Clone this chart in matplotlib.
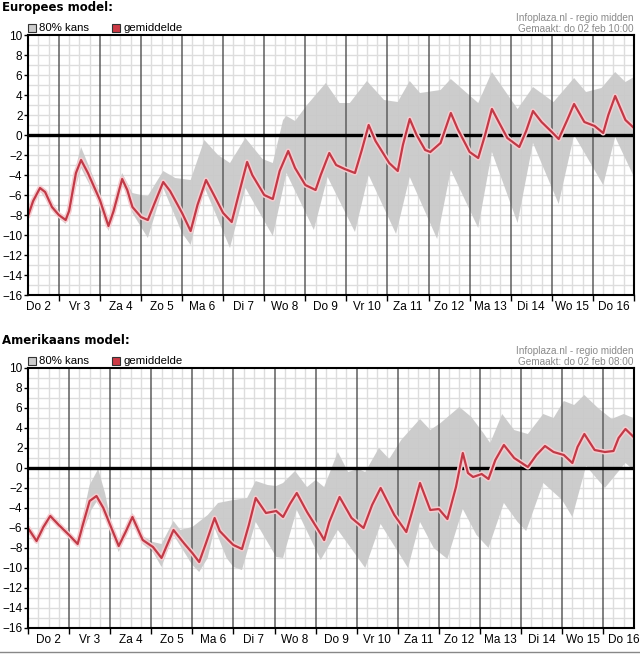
import matplotlib
matplotlib.use("Agg")
import matplotlib.pyplot as plt
import numpy as np
from matplotlib.patches import Rectangle
from matplotlib.lines import Line2D

plt.rcParams["font.family"] = ["Liberation Sans", "DejaVu Sans"]
plt.rcParams["font.size"] = 8

W, H = 640, 659

DAY_LABELS = ["Do 2", "Vr 3", "Za 4", "Zo 5", "Ma 6", "Di 7", "Wo 8", "Do 9",
              "Vr 10", "Za 11", "Zo 12", "Ma 13", "Di 14", "Wo 15", "Do 16"]

# times are hours since do 2 feb 00:00
# --- Europees model ---
EU_MEAN_H = [6, 9, 13, 16, 20, 24, 28, 30, 34, 37, 41, 48, 53, 56, 61, 64, 67,
             72, 76, 80, 85, 89, 96, 101, 105, 110, 114, 120, 125, 129, 134,
             137, 144, 149, 153, 158, 162, 168, 174, 177, 182, 186, 191, 197,
             201, 205, 209, 217, 222, 225, 229, 233, 238, 241, 247, 253, 257,
             264, 269, 273, 277, 281, 286, 293, 297, 301, 306, 312, 316, 321,
             325, 331, 337, 342, 345, 349, 355, 360]
EU_MEAN = [-8.1, -6.6, -5.3, -5.7, -7.2, -8.0, -8.5, -7.6, -3.8, -2.5, -3.8,
           -6.5, -9.1, -7.6, -4.4, -5.5, -7.2, -8.2, -8.5, -6.8, -4.7, -5.6,
           -7.8, -9.6, -7.0, -4.5, -5.8, -7.8, -8.7, -6.0, -2.7, -4.0, -6.0,
           -6.4, -3.6, -1.6, -3.3, -5.0, -5.5, -4.0, -1.8, -3.0, -3.4, -3.8,
           -1.5, 1.0, -0.6, -2.8, -3.6, -1.0, 1.6, 0.0, -1.5, -1.7, -0.8, 2.2,
           0.6, -1.7, -2.3, 0.0, 2.6, 1.3, -0.3, -1.2, 0.4, 2.4, 1.3, 0.3,
           -0.4, 1.5, 3.1, 1.3, 0.9, 0.2, 2.0, 3.9, 1.5, 0.7]
EU_UP_H = [6, 13, 24, 28, 32, 37, 48, 53, 61, 67, 72, 76, 85, 92, 101, 109,
           117, 124, 133, 143, 149, 155, 157, 162, 169, 180, 188, 194, 204,
           214, 222, 229, 235, 247, 253, 269, 277, 292, 301, 313, 325, 332,
           341, 349, 355, 360]
EU_UP = [-7.8, -5.0, -7.7, -8.2, -4.5, -1.2, -5.8, -8.7, -3.8, -5.8, -6.0,
         -6.1, -3.6, -4.3, -4.5, -0.5, -2.0, -2.8, -0.3, -2.4, -2.8, 1.5, 1.9,
         1.4, 3.0, 5.2, 3.2, 3.2, 5.4, 3.5, 3.3, 5.4, 4.2, 4.5, 5.6, 3.2, 6.3,
         2.6, 4.8, 3.3, 5.7, 4.3, 4.7, 6.3, 5.3, 5.8]
EU_LO_H = [6, 13, 24, 28, 37, 48, 53, 61, 67, 76, 85, 96, 101, 109, 124, 133,
           149, 157, 173, 181, 197, 205, 221, 229, 245, 253, 269, 277, 292,
           301, 316, 325, 342, 349, 360]
EU_LO = [-8.4, -5.6, -8.3, -8.9, -3.3, -7.0, -9.6, -4.7, -7.8, -10.3, -5.3,
         -9.8, -11.0, -5.2, -11.3, -5.3, -10.1, -3.8, -9.5, -4.2, -9.7, -4.0,
         -9.9, -4.2, -10.4, -3.5, -9.3, -1.7, -8.8, -0.8, -6.9, 0.0, -5.0,
         -0.2, -4.2]

# --- Amerikaans model ---
AM_MEAN_H = [0, 5, 9, 13, 18, 24, 29, 32, 36, 40, 44, 48, 53, 57, 61, 67, 73,
             78, 85, 91, 96, 100, 104, 109, 112, 117, 120, 125, 129, 133, 139,
             145, 149, 153, 157, 163, 171, 173, 176, 182, 189, 196, 201, 206,
             214, 221, 225, 229, 235, 240, 245, 250, 254, 257, 260, 265, 269,
             273, 278, 284, 292, 297, 302, 307, 313, 318, 321, 325, 331, 337,
             342, 345, 349, 355]
AM_MEAN = [-6.0, -7.3, -5.9, -4.8, -5.7, -6.7, -7.6, -5.7, -3.3, -2.8, -4.0,
           -5.7, -7.8, -6.4, -4.9, -7.2, -7.9, -9.0, -6.2, -7.5, -8.5, -9.4,
           -7.5, -5.0, -6.3, -7.2, -7.7, -8.1, -5.7, -3.0, -4.5, -4.3, -4.9,
           -3.6, -2.5, -4.4, -6.6, -7.2, -5.4, -2.9, -5.0, -6.0, -3.7, -2.0,
           -4.7, -6.4, -4.0, -1.5, -4.2, -4.1, -5.1, -1.9, 1.5, -0.5, -0.9,
           -0.6, -1.1, 0.8, 2.3, 1.0, 0.1, 1.3, 2.2, 1.6, 1.3, 0.5, 2.1, 3.4,
           1.8, 1.6, 1.7, 3.0, 3.9, 2.9]
AM_UP_H = [0, 5, 13, 24, 29, 36, 41, 45, 48, 53, 61, 67, 73, 78, 85, 89, 96,
           105, 111, 120, 128, 133, 140, 145, 149, 156, 163, 168, 173, 181,
           187, 193, 197, 205, 211, 218, 229, 235, 241, 252, 259, 266, 270,
           277, 284, 292, 301, 307, 313, 319, 325, 333, 341, 348, 355]
AM_UP = [-5.8, -7.0, -4.6, -6.4, -7.3, -1.7, -0.1, -2.5, -5.0, -7.5, -4.5,
         -6.8, -7.4, -7.6, -5.3, -6.2, -5.9, -4.7, -3.5, -3.2, -3.0, -1.3,
         -1.7, -1.8, -1.5, -0.3, -1.9, -1.2, -1.9, 1.6, -0.4, -0.1, -0.4, 2.0,
         0.9, 2.8, 4.9, 3.8, 4.5, 6.1, 5.1, 3.5, 2.5, 5.4, 3.8, 3.4, 5.4, 5.0,
         6.7, 6.3, 7.3, 6.0, 4.9, 5.4, 4.9]
AM_LO_H = [0, 5, 13, 24, 29, 37, 40, 45, 48, 53, 61, 67, 73, 78, 85, 96, 100,
           105, 109, 116, 120, 125, 133, 145, 149, 157, 171, 181, 197, 206,
           222, 229, 237, 245, 254, 262, 269, 278, 286, 291, 301, 312, 318,
           326, 337, 349, 355]
AM_LO = [-6.2, -7.6, -5.0, -7.0, -7.9, -4.2, -3.4, -4.6, -6.2, -8.4, -5.4,
         -7.6, -8.4, -9.9, -6.7, -9.7, -10.4, -9.0, -6.0, -9.0, -9.9, -10.2,
         -5.4, -8.9, -9.0, -4.2, -9.2, -6.2, -10.0, -5.6, -10.0, -5.4, -8.0,
         -9.1, -4.1, -6.7, -8.0, -3.5, -5.4, -6.3, -1.5, -3.2, -4.9, 0.2,
         -2.0, 0.5, -0.4]


def fx(x):
    return x / W


def fy(y):
    return 1 - y / H


def draw_panel(fig, top, title, made, mean_h, mean, up_h, up, lo_h, lo, t0, t1):
    ax = fig.add_axes([fx(28), fy(top + 260), 606 / W, 260 / H])
    ax.set_xlim(t0, t1)
    ax.set_ylim(-16, 10)

    # light grid: every unit and every 6 hours
    ax.hlines(np.arange(-15, 10), t0, t1, colors="#dddddd", lw=1, zorder=0)
    six = [h for h in range(0, 361, 6) if h % 24 and t0 < h < t1]
    ax.vlines(six, -16, 10, colors="#dddddd", lw=1, zorder=0)

    # 80% band
    bx = np.r_[up_h, lo_h[::-1]]
    by = np.r_[up, lo[::-1]]
    ax.fill(bx, by, color="#c9c9c9", alpha=0.93, lw=0, zorder=1)

    days = [h for h in range(0, 361, 24) if t0 < h < t1]
    ax.vlines(days, -16, 10, colors="#5e5e5e", lw=1.1, zorder=2)
    ax.axhline(0, color="black", lw=2.4, zorder=3)

    ax.plot(mean_h, mean, color="#f6cbcf", lw=3.8, zorder=4,
            solid_joinstyle="round", solid_capstyle="round")
    ax.plot(mean_h, mean, color="#c03a47", lw=1.6, zorder=5,
            solid_joinstyle="round", solid_capstyle="round")

    for s in ax.spines.values():
        s.set_color("black")
        s.set_linewidth(1.5)
        s.set_zorder(6)

    ax.set_yticks(range(-16, 11, 2))
    ax.tick_params(axis="y", length=3, width=1, pad=1, labelsize=8.5)
    ax.set_xticks([h for h in range(0, 361, 24) if t0 <= h <= t1])
    ax.set_xticklabels([])
    ax.tick_params(axis="x", which="major", length=4, width=1)
    noon = [12 + 24 * i for i in range(len(DAY_LABELS))]
    ax.set_xticks(noon, minor=True)
    ax.set_xticklabels(DAY_LABELS, minor=True)
    ax.tick_params(axis="x", which="minor", length=0, pad=4, labelsize=8.5)

    fig.text(fx(2), fy(top - 27), title, fontsize=8.5, fontweight="bold",
             family="DejaVu Sans", va="center", ha="left")
    fig.text(fx(634), fy(top - 17), "Infoplaza.nl - regio midden",
             color="#8a8a8a", fontsize=7.2, ha="right", va="center")
    fig.text(fx(634), fy(top - 6), made,
             color="#8a8a8a", fontsize=7.2, ha="right", va="center")

    for x0, col, label in [(28, "#cccccc", "80% kans"),
                           (112, "#cc3a45", "gemiddelde")]:
        fig.add_artist(Rectangle((fx(x0), fy(top - 3)), 8 / W, 8 / H,
                                 transform=fig.transFigure, facecolor=col,
                                 edgecolor="#333333", lw=0.8))
        fig.text(fx(x0 + 11), fy(top - 7), label, fontsize=8.2,
                 va="center", ha="left")
    return ax


fig = plt.figure(figsize=(W / 100, H / 100), dpi=100)

draw_panel(fig, 35, "Europees model:", "Gemaakt: do 02 feb 10:00",
           EU_MEAN_H, EU_MEAN, EU_UP_H, EU_UP, EU_LO_H, EU_LO, 6, 360)
draw_panel(fig, 368, "Amerikaans model:", "Gemaakt: do 02 feb 08:00",
           AM_MEAN_H, AM_MEAN, AM_UP_H, AM_UP, AM_LO_H, AM_LO, 0, 354)

fig.add_artist(Line2D([0, 1], [fy(652), fy(652)], color="#888888", lw=1,
                      transform=fig.transFigure))

fig.savefig("out.png", dpi=100)
